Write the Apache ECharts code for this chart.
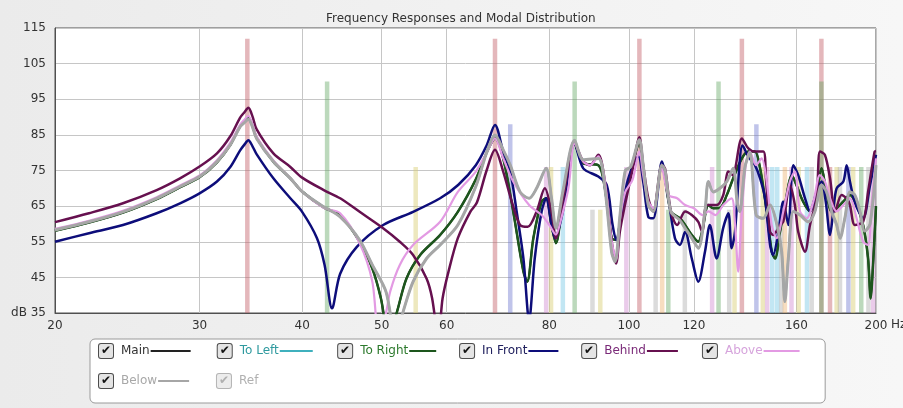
<!DOCTYPE html>
<html>
<head>
<meta charset="utf-8">
<script src="https://cdn.jsdelivr.net/npm/echarts@6/dist/echarts.min.js"></script>
<style>
  html, body { margin: 0; padding: 0; }
  #chart { width: 903px; height: 408px; }
</style>
</head>
<body>
<div id="chart"></div>
<script>
// x ticks (Hz)
const freqTicks = [20, 30, 40, 50, 60, 80, 100, 120, 160, 200];

// responses: [Hz, dB]
const inFront = [
  [20,55.0],[22,57.4],[24.2,59.7],[26.6,63.0],[28.4,65.8],[30,68.6],[31.5,71.9],[32.7,76.0],[33.6,80.6],[34.0,82.2],[34.4,83.5],
  [34.8,81.8],[35.2,79.6],[36.9,72.8],[38.7,67.2],[40,63.4],[41.7,56],[42.6,48.5],[43.5,36.3],[44.5,46],[46.6,53.5],[50.2,59.7],
  [54.6,63.4],[58.9,67.2],[62,71],[65.1,76.5],[67.1,82],[68.7,87.8],[70.3,80.3],[71.7,74.7],[73.0,63.5],[74.4,50.3],
  [75.6,33],[76.8,50.3],[78.3,63.5],[79.3,67.2],[80.5,59.7],[81.3,56],[83.1,63.5],[85.9,82.6],[88.0,75.6],[91.8,73.3],
  [94.0,70.9],[95.5,60],[96.5,55.5],[98,63],[99.7,72.3],[102.7,78.9],[104.1,71.9],[105.6,62.0],[107.1,61.6],[109.7,77.5],
  [111.7,67.2],[113.8,56],[115.4,54.1],[117.1,57.8],[119.3,50.3],[121.5,43.8],[123.8,52.2],[125.5,59.7],[127.9,50.3],
  [130.3,58.9],[132.2,63],[133.4,53.2],[134.7,58],[136.5,78],[137.5,82],[139.8,78.9],[142.4,76.5],[144.5,72.8],[146.5,67.2],
  [148.6,54.1],[149.9,51.3],[152.1,57.8],[154.2,66.3],[156.4,59.7],[158.6,76.5],[160.8,73.7],[163.9,67.2],[166.2,63.5],
  [169.3,69],[171.7,71.9],[173.7,66.3],[175.8,56.9],[177.5,64],[179.1,70],[182.5,71.9],[184.2,76.5],[185.9,71.9],
  [188.5,66],[192.9,61.6],[196.7,70.9],[200,79.4]
];
const behind = [
  [20,60.5],[22,63.0],[24.2,65.8],[26.6,69.5],[28.4,72.8],[30,76.1],[31.5,79.8],[32.7,84.6],[33.6,89.8],[34.0,91.3],[34.4,92.6],
  [34.8,90.2],[35.2,86.6],[36.9,79.8],[38.7,76.0],[40,73.0],[42.5,69.5],[44.5,67.2],[47,63.4],[50.2,58.8],[52.6,55],[54.6,51.3],
  [56.7,44.7],[57.6,39.1],[58.6,28],[59.3,39],[60.3,46.6],[61.9,56],[64.1,63.4],[65.3,66],[67.1,75],[68.7,80.8],
  [70.3,74.7],[72.0,66.3],[73.7,59.7],[75.3,59.2],[77.2,63.5],[79.0,70.0],[80.5,63.5],[81.5,56],[83.1,66.3],[85.9,82.6],
  [88.0,77.5],[89.7,76.5],[91.8,79.4],[93.5,71.9],[95.3,55],[96.5,48.9],[97.5,57.8],[98.8,64.8],[101,75.1],[103,84.3],
  [104.1,76.5],[105.6,67.2],[107.1,63.5],[109.7,76.5],[110.7,75.5],[112.5,63.5],[114.5,59.7],[117.1,63.5],[119.3,62.5],
  [121.5,60.6],[122.8,57.8],[124.5,65.3],[127.9,65.3],[130.3,68.1],[132.2,74.7],[133.8,73.7],[137.3,84],[139.8,81.2],
  [142.4,80.3],[145.8,80.3],[146.9,72.8],[148.6,57.8],[149.9,56.9],[152.8,59.7],[154.2,60.6],[157.1,70.9],[159.3,65.3],
  [160.8,57.8],[163.9,52.2],[166.2,59.7],[169.3,67.2],[170.9,80.3],[173.3,79.4],[175.8,72.8],[178.3,63.5],[181.6,68.1],
  [184.2,67.2],[185.9,65.3],[188.5,59.7],[192.9,60.6],[195.6,69],[199.2,80.3],[200,80.5]
];
const above = [
  [20,58.6],[22,60.9],[24.2,63.7],[26.6,67.5],[28.4,70.8],[30,73.6],[31.5,77.9],[32.7,82.8],[33.6,87.8],[34.0,89.2],[34.4,90.3],
  [34.8,88.0],[35.2,84.6],[36.9,77.8],[38.7,72.8],[40,69.1],[42.5,64.5],[44.5,63],[47,54.6],[48.7,43.8],[49.6,28],[50.6,35],
  [51.2,41],[52.6,48.5],[54.6,54.1],[58.9,60.6],[61.9,69],[65.1,74.7],[67.1,80],[68.7,84],[70.3,78.4],[72.3,71.9],
  [75.6,65.3],[78.3,62.5],[80,59.7],[81.5,57],[82.4,60],[84.4,70],[85.9,82.6],[88.0,77.5],[89.7,76.5],[91.8,79],
  [93.5,71.9],[95.3,55],[96.5,50],[97.5,61],[99,69],[101,72.3],[103,80.3],[104.1,73.7],[105.6,66.3],[107.1,64.4],
  [109.7,75.6],[111.7,68.1],[114.5,67.2],[117.1,65.3],[120,64.4],[123,62.5],[125,63.5],[127.5,62.5],[130.3,65.3],
  [133.4,67.2],[134.7,59.7],[135.9,46.6],[137,60],[138.8,76.5],[140.4,80.3],[142.9,76.5],[145.1,78.4],[147.2,71.9],
  [149.3,59.7],[151.4,56],[154.2,63.5],[157.1,71.9],[159.3,74.7],[161.6,63.5],[164.7,61.6],[167.8,66.3],[170.9,73.7],
  [173.3,71.9],[175.8,67.2],[179.1,63.5],[182.5,65.3],[185.9,67.2],[189.4,61.6],[192.9,55],[195.6,54.1],[197.6,66],[200,78.4]
];
const below = [
  [20,58.3],[22,60.6],[24.2,63.4],[26.6,67.2],[28.4,70.5],[30,73.3],[31.5,77.5],[32.7,82.2],[33.6,87.2],[34.0,88.4],[34.4,89.4],
  [34.8,87.2],[35.2,84.0],[36.9,77.5],[38.7,72.8],[40,69.1],[42.5,64.8],[44.5,62],[47,55.5],[48.7,48.5],[50.6,41],[52,28],
  [53.1,35.4],[54.6,43.8],[56.7,50.3],[58.9,54.1],[61.9,59.7],[65.1,70.5],[67.1,80],[68.7,85],[70.3,80.8],[71.7,76.5],
  [73.7,69],[75.6,67.2],[77.2,70],[79.3,75.6],[80.5,67.2],[81.5,58.8],[83.1,69],[85.9,83.5],[88.0,78],[91.8,78.4],
  [93.5,70],[95.3,52],[96.2,49.4],[97.5,62],[99,75],[100.5,76],[103,83.6],[104.1,76.5],[105.6,65.3],[107.1,63.5],
  [109.7,76.5],[110.7,75],[112.5,63.5],[115.4,61],[117.1,58.8],[119.3,56],[121.5,53.2],[123.8,63.5],[125,71.9],
  [126.7,69],[129.1,70],[131.6,71.9],[134,75.6],[135.5,66],[136.5,63.5],[138.5,76],[140.4,80],[142.9,62.5],[145.8,61.6],
  [148.6,65.3],[151.4,60],[153.5,52.2],[154.9,38.2],[156.4,50.3],[158.6,63.5],[161.6,62.5],[165.4,60.6],[168.5,63.5],
  [171.7,70.9],[174.1,69],[176.6,63.5],[179.1,59.7],[180.8,56],[183.4,62],[185.9,69],[188.5,68.1],[191.2,63.5],
  [193.8,58],[196.7,60],[200,76.5]
];
const toRight = [
  [20,58.1],[22,60.4],[24.2,63.2],[26.6,67.0],[28.4,70.3],[30,73.1],[31.5,77.3],[32.7,82.2],[33.6,87.4],[34.0,88.8],[34.4,89.9],
  [34.8,87.6],[35.2,84.2],[36.9,77.5],[38.7,72.8],[40,69.1],[42.5,64.6],[44.5,62.5],[47,55],[48.7,47.5],[49.9,39],[51,28],
  [52.2,35.4],[53.6,44.7],[55.7,51.3],[58.9,56.9],[61.9,63.4],[65.1,72.5],[67.1,80],[68.7,84],[70.3,78.4],[72.3,63.5],
  [74.4,46.6],[75.2,43.8],[76.5,56],[78.3,66.3],[79.3,67.2],[80.5,59.7],[81.5,54.6],[83.1,66.3],[85.9,82.6],[88.0,77],
  [91.8,76.5],[93.5,70],[95.3,56],[96.5,55.5],[98,64],[100,72.3],[103,82.6],[104.1,74.7],[105.6,66],[107.1,64],
  [109.7,76.5],[112.5,63.5],[115.4,61.6],[117.1,59.7],[119.3,56.9],[121.5,55],[122.8,57.8],[125,65.3],[126.7,64.4],
  [129.1,64.5],[131.6,68.1],[134,72.8],[137.3,78.4],[139.8,80.3],[142.4,80.3],[144.5,75.6],[147.2,63.5],[149.3,52.2],
  [150.7,50.3],[152.8,57.8],[154.9,65.3],[158,73.7],[160,70.9],[163,66.3],[166.2,63.5],[169.3,69],[171.7,75.6],
  [173.7,70],[176.6,63.5],[179.1,64.4],[182.5,66.3],[185.9,68.1],[189.4,65.3],[192.9,59.7],[195.6,50.3],[197,39.1],
  [198.5,50],[200,65]
];
// Main and To Left sit underneath the other curves
const mainResp = toRight;
const toLeft = below;

// room modes: frequency, level, kind
const modeFreq  = [34.3, 42.9, 55.0, 68.7, 71.7, 79.3, 80.4, 83.1, 85.9, 90.3, 92.3, 99.3, 103.0, 107.8, 109.8,
                   111.7, 117.0, 126.3, 128.6, 132.5, 134.5, 137.3, 143.0, 145.6, 147.4, 149.5, 151.6, 153.3, 154.9,
                   157.8, 161.0, 164.8, 167.0, 171.6, 171.6, 175.8, 179.1, 180.8, 185.1, 187.6, 191.9, 195.8, 198.4];
const modeLevel = [112, 100, 76, 112, 88, 76, 76, 76, 100, 64, 64, 76, 112, 64, 76,
                   64, 64, 76, 100, 64, 64, 112, 88, 76, 76, 76, 76, 64, 76,
                   76, 76, 76, 76, 112, 100, 76, 76, 76, 76, 76, 76, 76, 76];
const modeKind  = ['L', 'W', 'y', 'L', 'H', 'p', 'y', 'c', 'W', 'k', 'y', 'p', 'L', 'k', 'o',
                   'W', 'k', 'p', 'W', 'k', 'y', 'L', 'H', 'y', 'p', 'c', 'c', 'k', 'o',
                   'p', 'y', 'c', 'k', 'L', 'W', 'L', 'y', 'k', 'H', 'y', 'W', 'k', 'p'];

const modeColors = {
  L: 'rgba(195,95,105,0.45)', W: 'rgba(95,165,95,0.42)', H: 'rgba(105,115,205,0.42)',
  y: 'rgba(215,205,110,0.45)', p: 'rgba(205,130,205,0.42)', c: 'rgba(120,200,228,0.45)',
  k: 'rgba(160,160,160,0.38)', o: 'rgba(235,175,105,0.42)'
};

const seriesNames = ['Main', 'To Left', 'To Right', 'In Front', 'Behind', 'Above', 'Below'];
const seriesData = [mainResp, toLeft, toRight, inFront, behind, above, below];
const lineColors = ['#222222', '#3fb0bd', '#1d561d', '#0d0d7a', '#66104f', '#e39ae3', '#a6a6a6'];
const lineWidths = [2, 2, 2.5, 2.5, 2.5, 2.2, 3];
const labelColors = ['#333333', '#2f9a9f', '#2d7a2d', '#20205e', '#7a2a78', '#d6a4dc', '#a8a8a8'];
const legendLineLen = [40, 33, 27, 30, 31, 36, 31];

const lg = (f) => Math.log10(f);

// text widths, so every legend item takes the same pitch
const ctx = document.createElement('canvas').getContext('2d');
ctx.font = '12px "DejaVu Sans"';
const itemTextWidth = 102;

const chart = echarts.init(document.getElementById('chart'));

const rich = {
  cb: { width: 14, height: 14, align: 'center', backgroundColor: '#e4e4e4',
        borderColor: '#4c4c4c', borderWidth: 1, borderRadius: 2, fontSize: 12, fontWeight: 'bold', color: '#111' },
  cbOff: { width: 14, height: 14, align: 'center', backgroundColor: '#ececec',
           borderColor: '#b4b4b4', borderWidth: 1, borderRadius: 2, fontSize: 12, fontWeight: 'bold', color: '#b0b0b0' },
  tRef: { color: '#b0b0b0', padding: [0, 0, 0, 8] }
};
seriesNames.forEach((n, i) => {
  const tw = ctx.measureText(n).width;
  rich['t' + i] = { color: labelColors[i], padding: [0, 1, 0, 8] };
  rich['l' + i] = { width: legendLineLen[i], height: 2, backgroundColor: lineColors[i] };
  rich['f' + i] = { width: Math.max(0, itemTextWidth - 14 - 9 - tw - legendLineLen[i]) };
});

const lineSeries = seriesNames.map((name, i) => ({
  name: name,
  type: 'line',
  data: seriesData[i].map((p) => [lg(p[0]), p[1]]),
  showSymbol: false,
  symbol: 'none',
  smooth: 0.3,
  lineStyle: { color: lineColors[i], width: lineWidths[i] },
  itemStyle: { color: lineColors[i] },
  z: 3 + i,
  silent: true,
}));

const option = {
  backgroundColor: {
    type: 'linear', x: 0, y: 0, x2: 1, y2: 0,
    colorStops: [{ offset: 0, color: '#ebebeb' }, { offset: 1, color: '#f7f7f7' }]
  },
  animation: false,
  textStyle: { fontFamily: 'DejaVu Sans' },
  title: {
    text: 'Frequency Responses and Modal Distribution',
    left: 321,
    top: 8,
    textStyle: { fontSize: 12, fontWeight: 'normal', color: '#333', fontFamily: 'DejaVu Sans' }
  },
  grid: {
    left: 55, right: 27, top: 28, bottom: 95,
    show: true, backgroundColor: '#ffffff', borderColor: '#505050', borderWidth: 1
  },
  xAxis: {
    type: 'value',
    min: lg(20),
    max: lg(200),
    axisLine: { show: true, lineStyle: { color: '#505050' } },
    axisTick: { show: false, customValues: freqTicks.map(lg) },
    splitLine: { show: true, lineStyle: { color: '#c6c6c6', width: 1 } },
    axisLabel: {
      customValues: freqTicks.map(lg),
      formatter: (v) => String(Math.round(Math.pow(10, v))),
      color: '#333', fontSize: 12, margin: 7, fontFamily: 'DejaVu Sans'
    }
  },
  yAxis: {
    type: 'value',
    min: 35,
    max: 115,
    interval: 10,
    axisLine: { show: true, lineStyle: { color: '#505050' } },
    axisTick: { show: false },
    splitLine: { show: true, lineStyle: { color: '#c6c6c6', width: 1 } },
    axisLabel: {
      formatter: (v) => (v === 35 ? 'dB 35' : String(v)),
      color: '#333', fontSize: 12, margin: 9, fontFamily: 'DejaVu Sans'
    }
  },
  legend: {
    data: ['Main', 'To Left', 'To Right', 'In Front', 'Behind', 'Above', '', 'Below', 'Ref'],
    left: 90,
    top: 339,
    padding: [4, 21, 14, 3],
    backgroundColor: '#ffffff',
    borderColor: '#9a9a9a',
    borderWidth: 1,
    borderRadius: 5,
    itemWidth: 0,
    itemHeight: 0,
    itemGap: 14,
    selectedMode: false,
    formatter: (name) => {
      if (name === 'Ref') return '{cbOff|✔}{tRef|Ref}';
      const i = seriesNames.indexOf(name);
      return '{cb|✔}{t' + i + '|' + name + '}{l' + i + '| }{f' + i + '| }';
    },
    textStyle: { fontFamily: 'DejaVu Sans', fontSize: 12, rich: rich }
  },
  graphic: [{
    type: 'text', left: 891, top: 319,
    style: { text: 'Hz', fill: '#333', font: '12px "DejaVu Sans"' }
  }],
  series: [
    {
      name: 'modes',
      type: 'custom',
      silent: true,
      z: 1,
      data: modeFreq.map((f, i) => [lg(f), modeLevel[i]]),
      encode: { x: 0, y: 1 },
      renderItem: (params, api) => {
        const top = api.coord([api.value(0), api.value(1)]);
        const base = api.coord([api.value(0), 35]);
        return {
          type: 'rect',
          shape: { x: top[0] - 2.25, y: top[1], width: 4.5, height: base[1] - top[1] },
          style: { fill: modeColors[modeKind[params.dataIndex]] }
        };
      }
    },
    ...lineSeries,
    { name: 'Ref', type: 'line', data: [], showSymbol: false, itemStyle: { color: '#b0b0b0' } }
  ]
};

chart.setOption(option);
</script>
</body>
</html>
